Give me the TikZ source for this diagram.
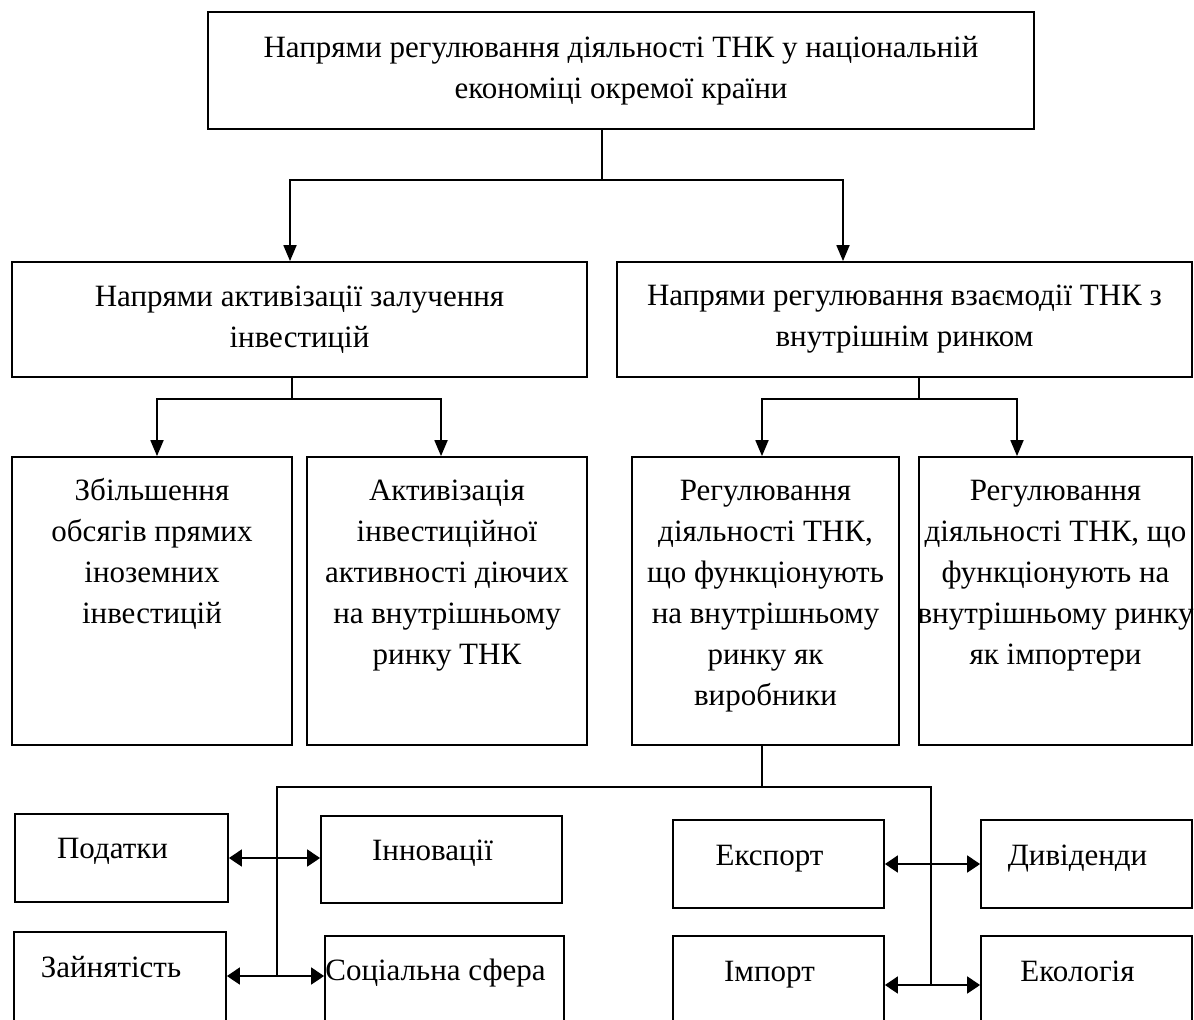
\documentclass[tikz,border=0pt]{standalone}
\usepackage{fontspec}
\setmainfont{Liberation Serif}
\usetikzlibrary{arrows.meta,calc,positioning}

\tikzset{
  frame/.style={draw, line width=0.9pt, inner sep=0pt, font=\fontsize{15.5}{20.5}\selectfont},
  link/.style={line width=0.9pt},
  arr/.style={link, -{Triangle[width=6.5pt,length=8pt]}},
  duo/.style={link, {Triangle[width=8.5pt,length=6.5pt]}-{Triangle[width=8.5pt,length=6.5pt]}}
}
% box with text hung from the top: width, height, first baseline, text
\newcommand{\celltext}[4]{\parbox[c][#2][t]{#1}{\centering\rule{0pt}{#3}#4}}

\begin{document}
\begin{tikzpicture}[x=0.5pt,y=-0.5pt]
  \useasboundingbox (0,0) rectangle (1194,1019);
  \clip (0,0) rectangle (1194,1019);

  % level 1 and 2
  \node[frame, minimum width=413pt, minimum height=58.5pt, align=center] (head) at (621,70.5)
    {Напрями регулювання діяльності ТНК у національній\\економіці окремої країни};
  \node[frame, minimum width=287.5pt, minimum height=57.5pt, align=center] (invest) at (299.5,319.5)
    {Напрями активізації залучення\\інвестицій};
  \node[frame, minimum width=287.5pt, minimum height=57.5pt, align=center] (market) at (904.5,319.5)
    {Напрями регулювання взаємодії ТНК з\\внутрішнім ринком};

  % level 3
  \node[frame] (fdi) at (152,601)
    {\celltext{140pt}{144pt}{21.5pt}{Збільшення\\обсягів прямих\\іноземних\\інвестицій}};
  \node[frame] (active) at (447,601)
    {\celltext{140pt}{144pt}{21.5pt}{Активізація\\інвестиційної\\активності діючих\\на внутрішньому\\ринку ТНК}};
  \node[frame] (makers) at (765.5,601)
    {\celltext{133.5pt}{144pt}{21.5pt}{Регулювання\\діяльності ТНК,\\що функціонують\\на внутрішньому\\ринку як\\виробники}};
  \node[frame] (importers) at (1055.5,601)
    {\celltext{136.5pt}{144pt}{21.5pt}{Регулювання\\діяльності ТНК, що\\функціонують на\\\makebox[\linewidth]{внутрішньому ринку}\\як імпортери}};

  % level 4
  \node[frame] (tax) at (121.5,858) {\celltext{106.5pt}{44pt}{22pt}{Податки\hspace*{9pt}}};
  \node[frame] (innov) at (441.5,859.5) {\celltext{120.5pt}{43.5pt}{22pt}{Інновації\hspace*{9pt}}};
  \node[frame] (jobs) at (120,981) {\celltext{106pt}{49pt}{22.5pt}{Зайнятість\hspace*{9pt}}};
  \node[frame] (social) at (444.5,985) {\celltext{119.5pt}{49pt}{22pt}{Соціальна сфера\hspace*{9pt}}};
  \node[frame] (export) at (778.5,864) {\celltext{105.5pt}{44pt}{22.5pt}{Експорт\hspace*{9pt}}};
  \node[frame] (divid) at (1086.5,864) {\celltext{105.5pt}{44pt}{22.5pt}{Дивіденди\hspace*{9pt}}};
  \node[frame] (import) at (778.5,985) {\celltext{105.5pt}{49pt}{22.5pt}{Імпорт\hspace*{9pt}}};
  \node[frame] (ecol) at (1086.5,985) {\celltext{105.5pt}{49pt}{22.5pt}{Екологія\hspace*{9pt}}};

  % connectors
  \coordinate (hub) at (602,180);
  \draw[link] (head.south -| hub) -- (hub);
  \draw[arr] (hub) -| (invest.north -| 290,0);
  \draw[arr] (hub) -| (market.north -| 843,0);

  \coordinate (hubA) at (292,399);
  \draw[link] (invest.south -| hubA) -- (hubA);
  \draw[arr] (hubA) -| (fdi.north -| 157,0);
  \draw[arr] (hubA) -| (active.north -| 441,0);

  \coordinate (hubB) at (919,399);
  \draw[link] (market.south -| hubB) -- (hubB);
  \draw[arr] (hubB) -| (makers.north -| 762,0);
  \draw[arr] (hubB) -| (importers.north -| 1017,0);

  \coordinate (hubC) at (762,787);
  \coordinate (busL) at (277,787);
  \coordinate (busR) at (931,787);
  \draw[link] (makers.south -| hubC) -- (hubC);
  \draw[link] (busL |- 0,976) -- (busL) -- (busR) -- (busR |- import.east);

  \draw[duo] (tax.east) -- (tax.east -| innov.west);
  \draw[duo] (jobs.east |- 0,976) -- (social.west |- 0,976);
  \draw[duo] (export.east) -- (export.east -| divid.west);
  \draw[duo] (import.east) -- (import.east -| ecol.west);
\end{tikzpicture}
\end{document}
